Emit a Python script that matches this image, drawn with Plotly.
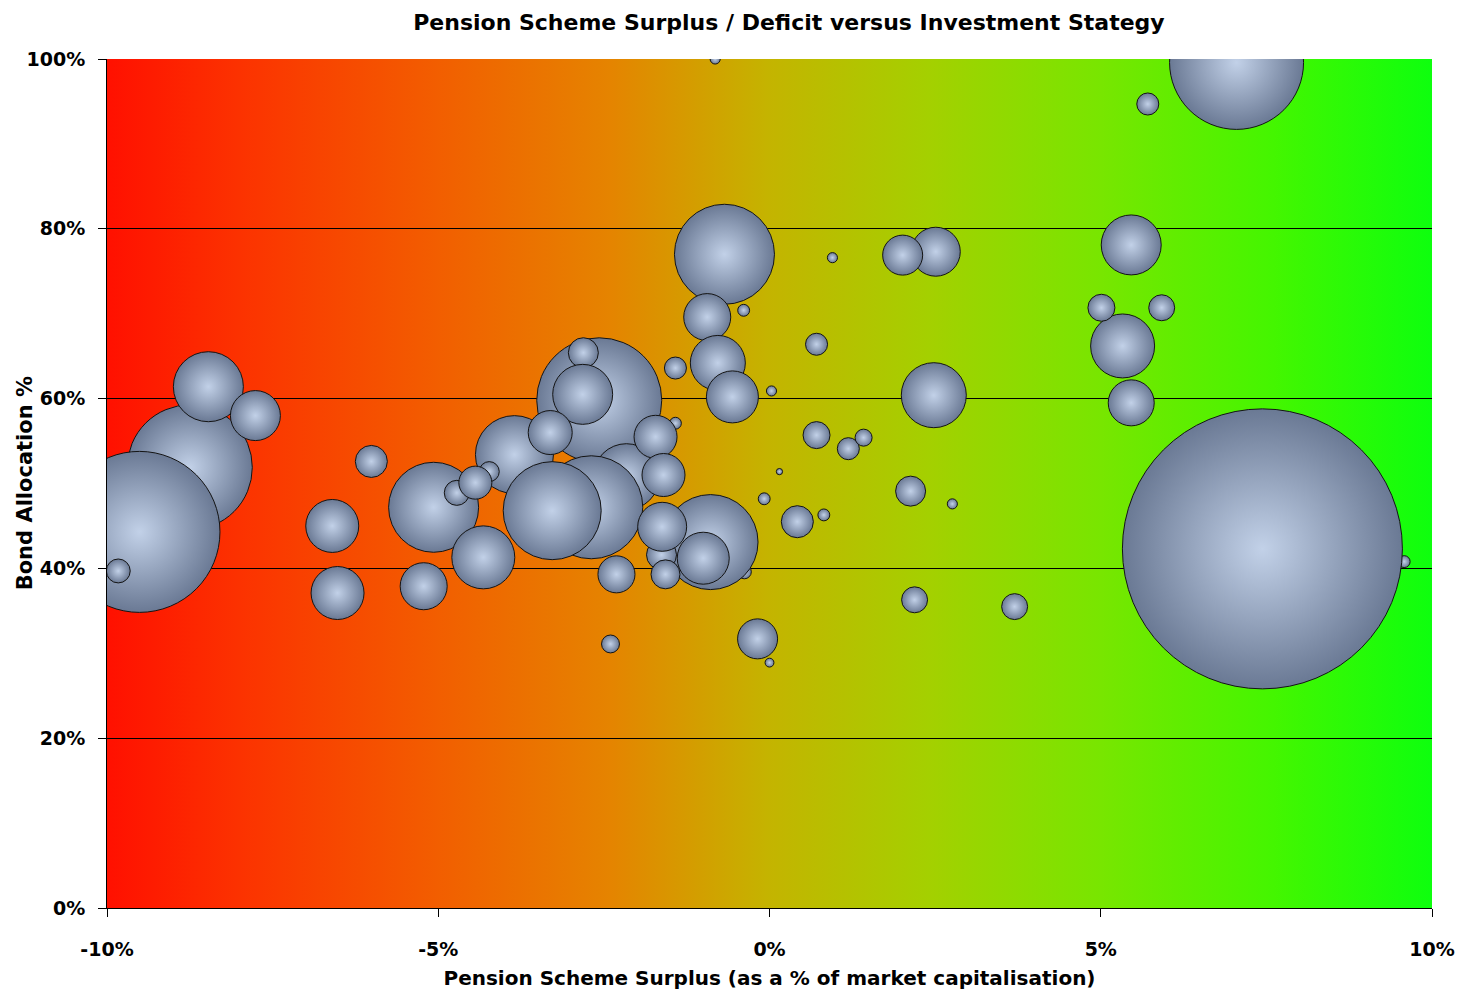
import base64
import plotly.graph_objects as go

# Company pension schemes: surplus/deficit (% of market cap), bond allocation (%),
# and market capitalisation (bubble area), listed in drawing order (back to front).
surplus_pct = [
    -8.75, -9.51, -9.83, -8.47, -7.76, -6.01, -6.60, -6.52, -5.22, -5.07,
    -3.85, -4.23, -4.72, -4.44, -4.32, -2.57, -2.81, -2.82, -3.31, -2.16,
    -2.69, -3.28, -1.42, -1.72, -1.60, -0.38, -0.89, -1.63, -1.62, -1.00,
    -1.57, -2.31, -2.40, -0.18, 0.00, -0.68, -0.39, -0.94, -0.78, -0.56,
    -1.42, 0.03, -0.08, -0.82, 0.95, 0.71, 2.51, 2.01, 2.48, 0.71,
    1.19, 1.42, 0.15, 2.13, 2.76, 0.42, 0.82, 2.19, 3.70, 7.05,
    5.71, 5.46, 5.33, 5.01, 5.92, 5.46, 9.58, 7.44,
]
bond_allocation_pct = [
    51.9, 44.3, 39.7, 61.4, 58.0, 52.6, 45.0, 37.1, 37.9, 47.2,
    53.4, 51.4, 48.9, 50.1, 41.3, 59.8, 65.4, 60.5, 56.0, 50.8,
    47.2, 46.8, 57.1, 55.5, 51.0, 39.6, 43.1, 41.6, 44.9, 41.2,
    39.3, 39.3, 31.1, 31.7, 28.9, 77.0, 70.4, 69.6, 64.2, 60.2,
    63.6, 60.9, 48.2, 100.0, 76.6, 66.4, 77.3, 76.9, 60.4, 55.7,
    54.1, 55.4, 51.4, 49.1, 47.6, 45.5, 46.3, 36.3, 35.5, 99.6,
    94.7, 78.1, 66.2, 70.7, 70.7, 59.5, 40.8, 42.3,
]
market_cap = [
    19.93, 33.06, 0.73, 6.25, 3.19, 1.31, 3.58, 3.58, 2.82, 10.33,
    7.76, 0.51, 0.80, 1.39, 5.06, 19.93, 1.15, 4.59, 2.47, 5.56,
    13.53, 12.25, 0.18, 2.36, 2.36, 0.25, 11.51, 1.15, 3.06, 3.45,
    1.07, 1.75, 0.41, 2.04, 0.10, 12.76, 0.18, 2.82, 3.86, 3.45,
    0.62, 0.13, 0.18, 0.13, 0.13, 0.62, 3.06, 2.04, 5.39, 0.93,
    0.62, 0.37, 0.05, 1.15, 0.13, 1.31, 0.18, 0.86, 0.86, 22.90,
    0.62, 4.59, 5.22, 0.93, 0.86, 2.70, 0.18, 100.0,
]

x_tick_vals = [-10, -5, 0, 5, 10]
x_tick_text = ["-10%", "-5%", "0%", "5%", "10%"]
y_tick_vals = [0, 20, 40, 60, 80, 100]
y_tick_text = ["0%", "20%", "40%", "60%", "80%", "100%"]

FONT = "DejaVu Sans, Verdana, sans-serif"

# Horizontal red -> amber -> green background as an inline SVG gradient
stops = [
    (0.00, "#ff1000"), (0.10, "#fc3200"), (0.25, "#f25e00"), (0.38, "#e58400"),
    (0.50, "#c4b400"), (0.62, "#a4d000"), (0.75, "#78e600"), (0.88, "#44f600"),
    (1.00, "#0eff0e"),
]
stop_tags = "".join(f'<stop offset="{o}" stop-color="{c}"/>' for o, c in stops)
svg = (
    '<svg xmlns="http://www.w3.org/2000/svg" width="200" height="20" '
    'viewBox="0 0 200 20" preserveAspectRatio="none">'
    f'<defs><linearGradient id="g" x1="0" x2="1" y1="0" y2="0">{stop_tags}</linearGradient></defs>'
    '<rect width="200" height="20" fill="url(#g)"/></svg>'
)
bg_src = "data:image/svg+xml;base64," + base64.b64encode(svg.encode()).decode()

# Bubble diameter (px) = 28 * sqrt(market_cap)
sizeref = 2.0 / (28.0 ** 2)

fig = go.Figure()
fig.add_trace(go.Scatter(
    x=surplus_pct,
    y=bond_allocation_pct,
    mode="markers",
    marker=dict(
        size=market_cap,
        sizemode="area",
        sizeref=sizeref,
        color="#6a7994",
        gradient=dict(type="radial", color="#c2d1e8"),
        line=dict(color="#141414", width=1),
        opacity=1,
    ),
    hovertemplate="Surplus: %{x:.2f}%<br>Bonds: %{y:.1f}%<extra></extra>",
    showlegend=False,
))

fig.add_layout_image(dict(
    source=bg_src, xref="x", yref="y", x=-10, y=100, sizex=20, sizey=100,
    xanchor="left", yanchor="top", sizing="stretch", layer="below",
))

fig.update_layout(
    width=1461, height=996,
    margin=dict(l=107, r=29, t=59, b=88, autoexpand=False),
    paper_bgcolor="white",
    plot_bgcolor="white",
    font=dict(family=FONT, color="black"),
    title=dict(
        text="Pension Scheme Surplus / Deficit versus Investment Stategy",
        x=0.54, xanchor="center", y=0.978, yanchor="middle",
        font=dict(family=FONT, size=22, color="black", weight="bold"),
    ),
    annotations=[dict(
        text="Bond Allocation %", textangle=-90,
        xref="paper", yref="paper", x=-0.062, y=0.5,
        xanchor="center", yanchor="middle", showarrow=False,
        font=dict(family=FONT, size=21, color="black", weight="bold"),
    )],
)

fig.update_xaxes(
    range=[-10, 10], tickvals=x_tick_vals, ticktext=x_tick_text,
    automargin=False,
    showgrid=False, zeroline=False,
    showline=True, linecolor="black", linewidth=1,
    ticks="outside", ticklen=8, tickcolor="black", tickwidth=1,
    ticklabelstandoff=16,
    tickfont=dict(family=FONT, size=19, color="black", weight="bold"),
    title=dict(text="Pension Scheme Surplus (as a % of market capitalisation)",
               standoff=12,
               font=dict(family=FONT, size=20, color="black", weight="bold")),
)
fig.update_yaxes(
    range=[0, 100], tickvals=y_tick_vals, ticktext=y_tick_text,
    automargin=False,
    showgrid=True, gridcolor="black", gridwidth=1, zeroline=False,
    showline=True, linecolor="black", linewidth=1,
    ticks="outside", ticklen=8, tickcolor="black", tickwidth=1,
    ticklabelstandoff=9,
    tickfont=dict(family=FONT, size=19, color="black", weight="bold"),
)

fig.write_html("out.html")
